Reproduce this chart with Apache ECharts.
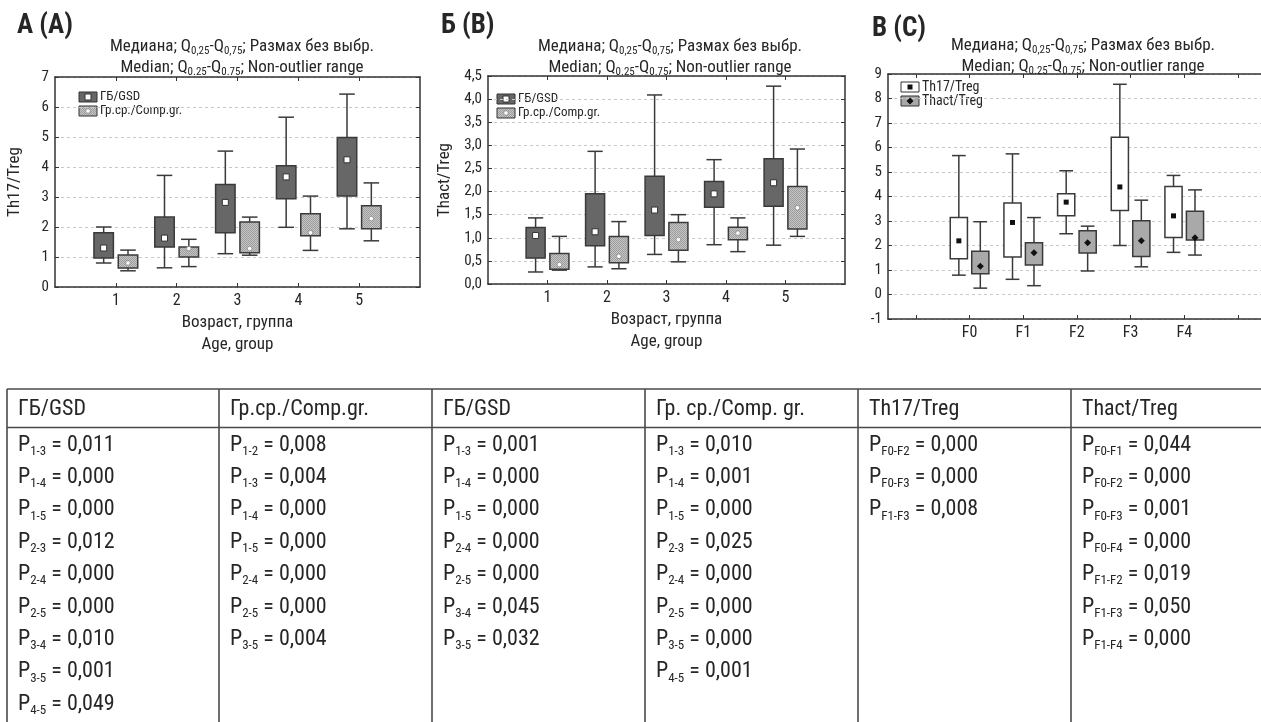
<!DOCTYPE html>
<html>
<head>
<meta charset="utf-8">
<style>
  html, body { margin: 0; padding: 0; background: #fff; }
  #main { width: 1261px; height: 722px; }
</style>
</head>
<body>
<div id="main"></div>
<script src="https://cdn.jsdelivr.net/npm/echarts@6/dist/echarts.min.js"></script>
<script>
var FONT = "'Liberation Sans Narrow', 'Arial Narrow', 'Roboto Condensed', 'DejaVu Sans Condensed', 'Liberation Sans', sans-serif";
var INK = '#262626';

// box stats: [low whisker, Q25, median, Q75, high whisker]
var ageGroups = ['1', '2', '3', '4', '5'];
var th17Gsd = [[0.80, 0.97, 1.30, 1.81, 2.00], [0.64, 1.33, 1.63, 2.33, 3.72], [1.11, 1.81, 2.82, 3.42, 4.53], [1.99, 2.94, 3.67, 4.04, 5.66], [1.94, 3.03, 4.24, 4.98, 6.43]];
var th17Comp = [[0.54, 0.63, 0.80, 1.07, 1.23], [0.68, 1.00, 1.28, 1.33, 1.59], [1.06, 1.14, 1.28, 2.17, 2.33], [1.22, 1.71, 1.81, 2.44, 3.03], [1.54, 1.94, 2.28, 2.71, 3.47]];
var thactGsd = [[0.26, 0.56, 1.05, 1.22, 1.43], [0.37, 0.83, 1.13, 1.95, 2.87], [0.64, 1.05, 1.60, 2.33, 4.09], [0.85, 1.66, 1.95, 2.22, 2.69], [0.84, 1.68, 2.19, 2.71, 4.28]];
var thactComp = [[0.30, 0.32, 0.42, 0.66, 1.03], [0.33, 0.46, 0.60, 1.03, 1.35], [0.48, 0.73, 0.96, 1.33, 1.50], [0.70, 0.96, 1.10, 1.23, 1.43], [1.03, 1.19, 1.65, 2.11, 2.92]];
var fibrosis = ['F0', 'F1', 'F2', 'F3', 'F4'];
var th17Fib = [[0.79, 1.46, 2.19, 3.14, 5.67], [0.62, 1.53, 2.94, 3.73, 5.74], [2.48, 3.21, 3.77, 4.11, 5.05], [2.00, 3.43, 4.39, 6.42, 8.58], [1.72, 2.33, 3.21, 4.41, 4.86]];
var thactFib = [[0.26, 0.85, 1.15, 1.77, 2.97], [0.36, 1.20, 1.70, 2.11, 3.14], [0.96, 1.69, 2.11, 2.60, 2.79], [1.13, 1.55, 2.19, 3.01, 3.85], [1.61, 2.22, 2.32, 3.40, 4.27]];

// p-value table: [subscript, value]
var tableHeads = ['ГБ/GSD', 'Гр.ср./Comp.gr.', 'ГБ/GSD', 'Гр. ср./Comp. gr.', 'Th17/Treg', 'Thact/Treg'];
var pTh17Gsd = [['1-3', '0,011'], ['1-4', '0,000'], ['1-5', '0,000'], ['2-3', '0,012'], ['2-4', '0,000'], ['2-5', '0,000'], ['3-4', '0,010'], ['3-5', '0,001'], ['4-5', '0,049']];
var pTh17Comp = [['1-2', '0,008'], ['1-3', '0,004'], ['1-4', '0,000'], ['1-5', '0,000'], ['2-4', '0,000'], ['2-5', '0,000'], ['3-5', '0,004']];
var pThactGsd = [['1-3', '0,001'], ['1-4', '0,000'], ['1-5', '0,000'], ['2-4', '0,000'], ['2-5', '0,000'], ['3-4', '0,045'], ['3-5', '0,032']];
var pThactComp = [['1-3', '0,010'], ['1-4', '0,001'], ['1-5', '0,000'], ['2-3', '0,025'], ['2-4', '0,000'], ['2-5', '0,000'], ['3-5', '0,000'], ['4-5', '0,001']];
var pFibTh17 = [['F0-F2', '0,000'], ['F0-F3', '0,000'], ['F1-F3', '0,008']];
var pFibThact = [['F0-F1', '0,044'], ['F0-F2', '0,000'], ['F0-F3', '0,001'], ['F0-F4', '0,000'], ['F1-F2', '0,019'], ['F1-F3', '0,050'], ['F1-F4', '0,000']];

var chart = echarts.init(document.getElementById('main'));

function hatch() {
    var c = document.createElement('canvas');
    c.width = 2; c.height = 2;
    var g = c.getContext('2d');
    g.fillStyle = '#c6c6c6';
    g.fillRect(0, 0, 2, 2);
    g.fillStyle = '#9c9c9c';
    g.fillRect(0, 0, 1, 1); g.fillRect(1, 1, 1, 1);
    return c;
}
var HATCH = { image: hatch(), repeat: 'repeat' };

function markerEl(kind, x, y) {
    if (kind === 'sqWhite') return { type: 'rect', shape: { x: x - 3, y: y - 3, width: 6, height: 6 }, style: { fill: '#fff', stroke: '#333', lineWidth: 1 } };
    if (kind === 'dotWhite') return { type: 'circle', shape: { cx: x, cy: y, r: 2.3 }, style: { fill: '#fff', stroke: '#888', lineWidth: 0.8 } };
    if (kind === 'sqBlack') return { type: 'rect', shape: { x: x - 2.5, y: y - 2.5, width: 5, height: 5 }, style: { fill: '#111' } };
    return { type: 'polygon', shape: { points: [[x, y - 3.5], [x + 3.5, y], [x, y + 3.5], [x - 3.5, y]] }, style: { fill: '#111' } };
}

function boxRenderer(offset, fill, marker) {
    return function (params, api) {
        var x = api.value(0) + offset;
        var lo = api.coord([x, api.value(1)]);
        var q1 = api.coord([x, api.value(2)]);
        var md = api.coord([x, api.value(3)]);
        var q3 = api.coord([x, api.value(4)]);
        var hi = api.coord([x, api.value(5)]);
        var w = api.size([0.32, 0])[0];
        var cap = w * 0.8;
        var cx = lo[0];
        var ln = { stroke: '#3a3a3a', lineWidth: 1.5 };
        return {
            type: 'group',
            children: [
                { type: 'line', shape: { x1: cx, y1: lo[1], x2: cx, y2: hi[1] }, style: ln },
                { type: 'line', shape: { x1: cx - cap / 2, y1: lo[1], x2: cx + cap / 2, y2: lo[1] }, style: ln },
                { type: 'line', shape: { x1: cx - cap / 2, y1: hi[1], x2: cx + cap / 2, y2: hi[1] }, style: ln },
                { type: 'rect', shape: { x: cx - w / 2, y: q3[1], width: w, height: q1[1] - q3[1] }, style: { fill: fill, stroke: '#3a3a3a', lineWidth: 1.5 } },
                markerEl(marker, cx, md[1])
            ]
        };
    };
}

function items(stats) {
    return stats.map(function (s, i) { return [i + 1].concat(s); });
}

function boxSeries(name, stats, axis, offset, fill, marker) {
    return {
        type: 'custom', name: name,
        xAxisIndex: axis, yAxisIndex: axis,
        renderItem: boxRenderer(offset, fill, marker),
        encode: { x: 0, y: [1, 2, 3, 4, 5] },
        data: items(stats),
        silent: true
    };
}

var labelStyle = { color: INK, fontSize: 15, fontFamily: FONT, margin: 6 };
var tick = { inside: true, length: 4, lineStyle: { color: '#333' } };
var border = { show: true, onZero: false, lineStyle: { color: '#333', width: 1.5 } };
var gridLine = { show: true, lineStyle: { color: '#c8c8c8', type: [3, 3], width: 1 } };

function xAxes(min, max, names, ticks, labels, axisName) {
    var base = {
        type: 'value', min: min, max: max,
        axisLine: border, splitLine: { show: false },
        axisTick: Object.assign({ customValues: ticks }, tick)
    };
    var bottom = Object.assign({}, base, {
        position: 'bottom',
        axisLabel: Object.assign({
            customValues: labels,
            formatter: function (v) { return names[Math.round(v) - 1] || ''; }
        }, labelStyle, { fontSize: 16 }),
        name: axisName, nameLocation: 'middle', nameGap: 25,
        nameTextStyle: { color: INK, fontSize: 17, fontFamily: FONT, lineHeight: 22 }
    });
    var top = Object.assign({}, base, { position: 'top', axisLabel: { show: false } });
    return [bottom, top];
}

function yAxes(min, max, step, fmt, axisName, gap, rightSide) {
    var base = {
        type: 'value', min: min, max: max, interval: step,
        axisLine: border, axisTick: tick
    };
    var left = Object.assign({}, base, {
        position: 'left', splitLine: gridLine,
        axisLabel: Object.assign({ formatter: fmt }, labelStyle),
        name: axisName, nameLocation: 'middle', nameGap: gap,
        nameTextStyle: { color: INK, fontSize: 17, fontFamily: FONT }
    });
    var right = Object.assign({}, base, {
        position: 'right', splitLine: { show: false }, axisLabel: { show: false },
        axisLine: { show: rightSide, onZero: false, lineStyle: border.lineStyle },
        axisTick: Object.assign({}, tick, { show: rightSide })
    });
    return [left, right];
}

var intFmt = function (v) { return String(v); };
var commaFmt = function (v) { return v.toFixed(1).replace('.', ','); };
var ageName = 'Возраст, группа\nAge, group';

var xAll = []
    .concat(xAxes(0, 6, ageGroups, [1, 2, 3, 4, 5], [1, 2, 3, 4, 5], ageName))
    .concat(xAxes(0, 6, ageGroups, [1, 2, 3, 4, 5], [1, 2, 3, 4, 5], ageName))
    .concat(xAxes(-0.52, 6.43, fibrosis, [0, 1, 2, 3, 4, 5, 6], [1, 2, 3, 4, 5], ''));
var yAll = []
    .concat(yAxes(0, 7, 1, intFmt, 'Th17/Treg', 32, true))
    .concat(yAxes(0, 4.5, 0.5, commaFmt, 'Thact/Treg', 35, true))
    .concat(yAxes(-1, 9, 1, intFmt, '', 0, false));

// each grid owns a bottom/top x pair and a left/right y pair
xAll.forEach(function (a, i) { a.gridIndex = Math.floor(i / 2); });
yAll.forEach(function (a, i) { a.gridIndex = Math.floor(i / 2); });

var subRich = {
    sub: { fontSize: 11, lineHeight: 11, verticalAlign: 'bottom', fontFamily: FONT, color: INK }
};
var subtitle = 'Медиана; Q{sub|0,25}-Q{sub|0,75}; Размах без выбр.\nMedian; Q{sub|0.25}-Q{sub|0.75}; Non-outlier range';

function panelTitles(letter, lx, ly, cx, cy) {
    return [
        { text: letter, left: lx, top: ly, textStyle: { color: INK, fontSize: 27, fontWeight: 'bold', fontFamily: FONT } },
        { text: subtitle, left: cx, top: cy, textAlign: 'center',
          textStyle: { color: INK, fontSize: 17, fontWeight: 'normal', fontFamily: FONT, lineHeight: 21, rich: subRich } }
    ];
}

// legends and table drawn as graphics
var graphics = [];
function legendRow(x, y, fill, marker, text, fs) {
    graphics.push({ type: 'rect', shape: { x: x, y: y - 5, width: 18, height: 10 }, style: { fill: fill, stroke: '#333', lineWidth: 1 }, silent: true });
    graphics.push(Object.assign(markerEl(marker, x + 9, y), { silent: true }));
    graphics.push({ type: 'text', x: x + 21, y: y, style: { text: text, fill: INK, fontSize: fs, fontFamily: FONT, verticalAlign: 'middle' }, silent: true });
}
legendRow(79, 97, '#676767', 'sqWhite', 'ГБ/GSD', 13);
legendRow(79, 111, HATCH, 'dotWhite', 'Гр.ср./Comp.gr.', 13);
legendRow(497, 99, '#676767', 'sqWhite', 'ГБ/GSD', 13);
legendRow(497, 113, HATCH, 'dotWhite', 'Гр.ср./Comp.gr.', 13);
legendRow(901, 87, '#fff', 'sqBlack', 'Th17/Treg', 14);
legendRow(901, 101, '#a9a9a9', 'diaBlack', 'Thact/Treg', 14);

var colX = [7, 219, 432, 645, 858, 1071];
var tableTop = 389, headBottom = 427.5, rowStart = 445, rowStep = 32.4;
var tableLine = { stroke: '#4a4a4a', lineWidth: 1.6 };
graphics.push({ type: 'line', shape: { x1: colX[0], y1: tableTop, x2: 1261, y2: tableTop }, style: tableLine, silent: true });
graphics.push({ type: 'line', shape: { x1: colX[0], y1: headBottom, x2: 1261, y2: headBottom }, style: tableLine, silent: true });
colX.forEach(function (x) {
    graphics.push({ type: 'line', shape: { x1: x, y1: tableTop, x2: x, y2: 722 }, style: tableLine, silent: true });
});
var pCols = [pTh17Gsd, pTh17Comp, pThactGsd, pThactComp, pFibTh17, pFibThact];
var cellRich = {
    p: { fontSize: 22, lineHeight: 26, fontFamily: FONT, fill: INK, color: INK },
    s: { fontSize: 13, lineHeight: 12, verticalAlign: 'bottom', fontFamily: FONT, fill: INK, color: INK }
};
tableHeads.forEach(function (h, c) {
    graphics.push({ type: 'text', x: colX[c] + 11, y: 409, style: { text: h, fill: INK, fontSize: 22, fontFamily: FONT, verticalAlign: 'middle' }, silent: true });
    pCols[c].forEach(function (row, r) {
        graphics.push({
            type: 'text', x: colX[c] + 11, y: rowStart + r * rowStep,
            style: { text: '{p|P}{s|' + row[0] + '}{p| = ' + row[1] + '}', rich: cellRich, verticalAlign: 'middle', fontFamily: FONT },
            silent: true
        });
    });
});

chart.setOption({
    animation: false,
    backgroundColor: '#fff',
    title: []
        .concat(panelTitles('А (A)', 12, 8, 237, 31))
        .concat(panelTitles('Б (B)', 436, 8, 665, 31))
        .concat(panelTitles('В (C)', 867, 11, 1078, 30)),
    grid: [
        { left: 55, right: 1261 - 420, top: 77, bottom: 722 - 287 },
        { left: 488, right: 1261 - 845, top: 76, bottom: 722 - 284 },
        { left: 888, right: 0, top: 74, bottom: 722 - 319 }
    ],
    xAxis: xAll,
    yAxis: yAll,
    series: [
        boxSeries('ГБ/GSD', th17Gsd, 0, -0.2, '#676767', 'sqWhite'),
        boxSeries('Гр.ср./Comp.gr.', th17Comp, 0, 0.2, HATCH, 'dotWhite'),
        boxSeries('ГБ/GSD', thactGsd, 2, -0.2, '#676767', 'sqWhite'),
        boxSeries('Гр.ср./Comp.gr.', thactComp, 2, 0.2, HATCH, 'dotWhite'),
        boxSeries('Th17/Treg', th17Fib, 4, -0.2, '#fff', 'sqBlack'),
        boxSeries('Thact/Treg', thactFib, 4, 0.2, '#a9a9a9', 'diaBlack')
    ],
    graphic: graphics
});

window.onresize = chart.resize;
</script>
</body>
</html>
